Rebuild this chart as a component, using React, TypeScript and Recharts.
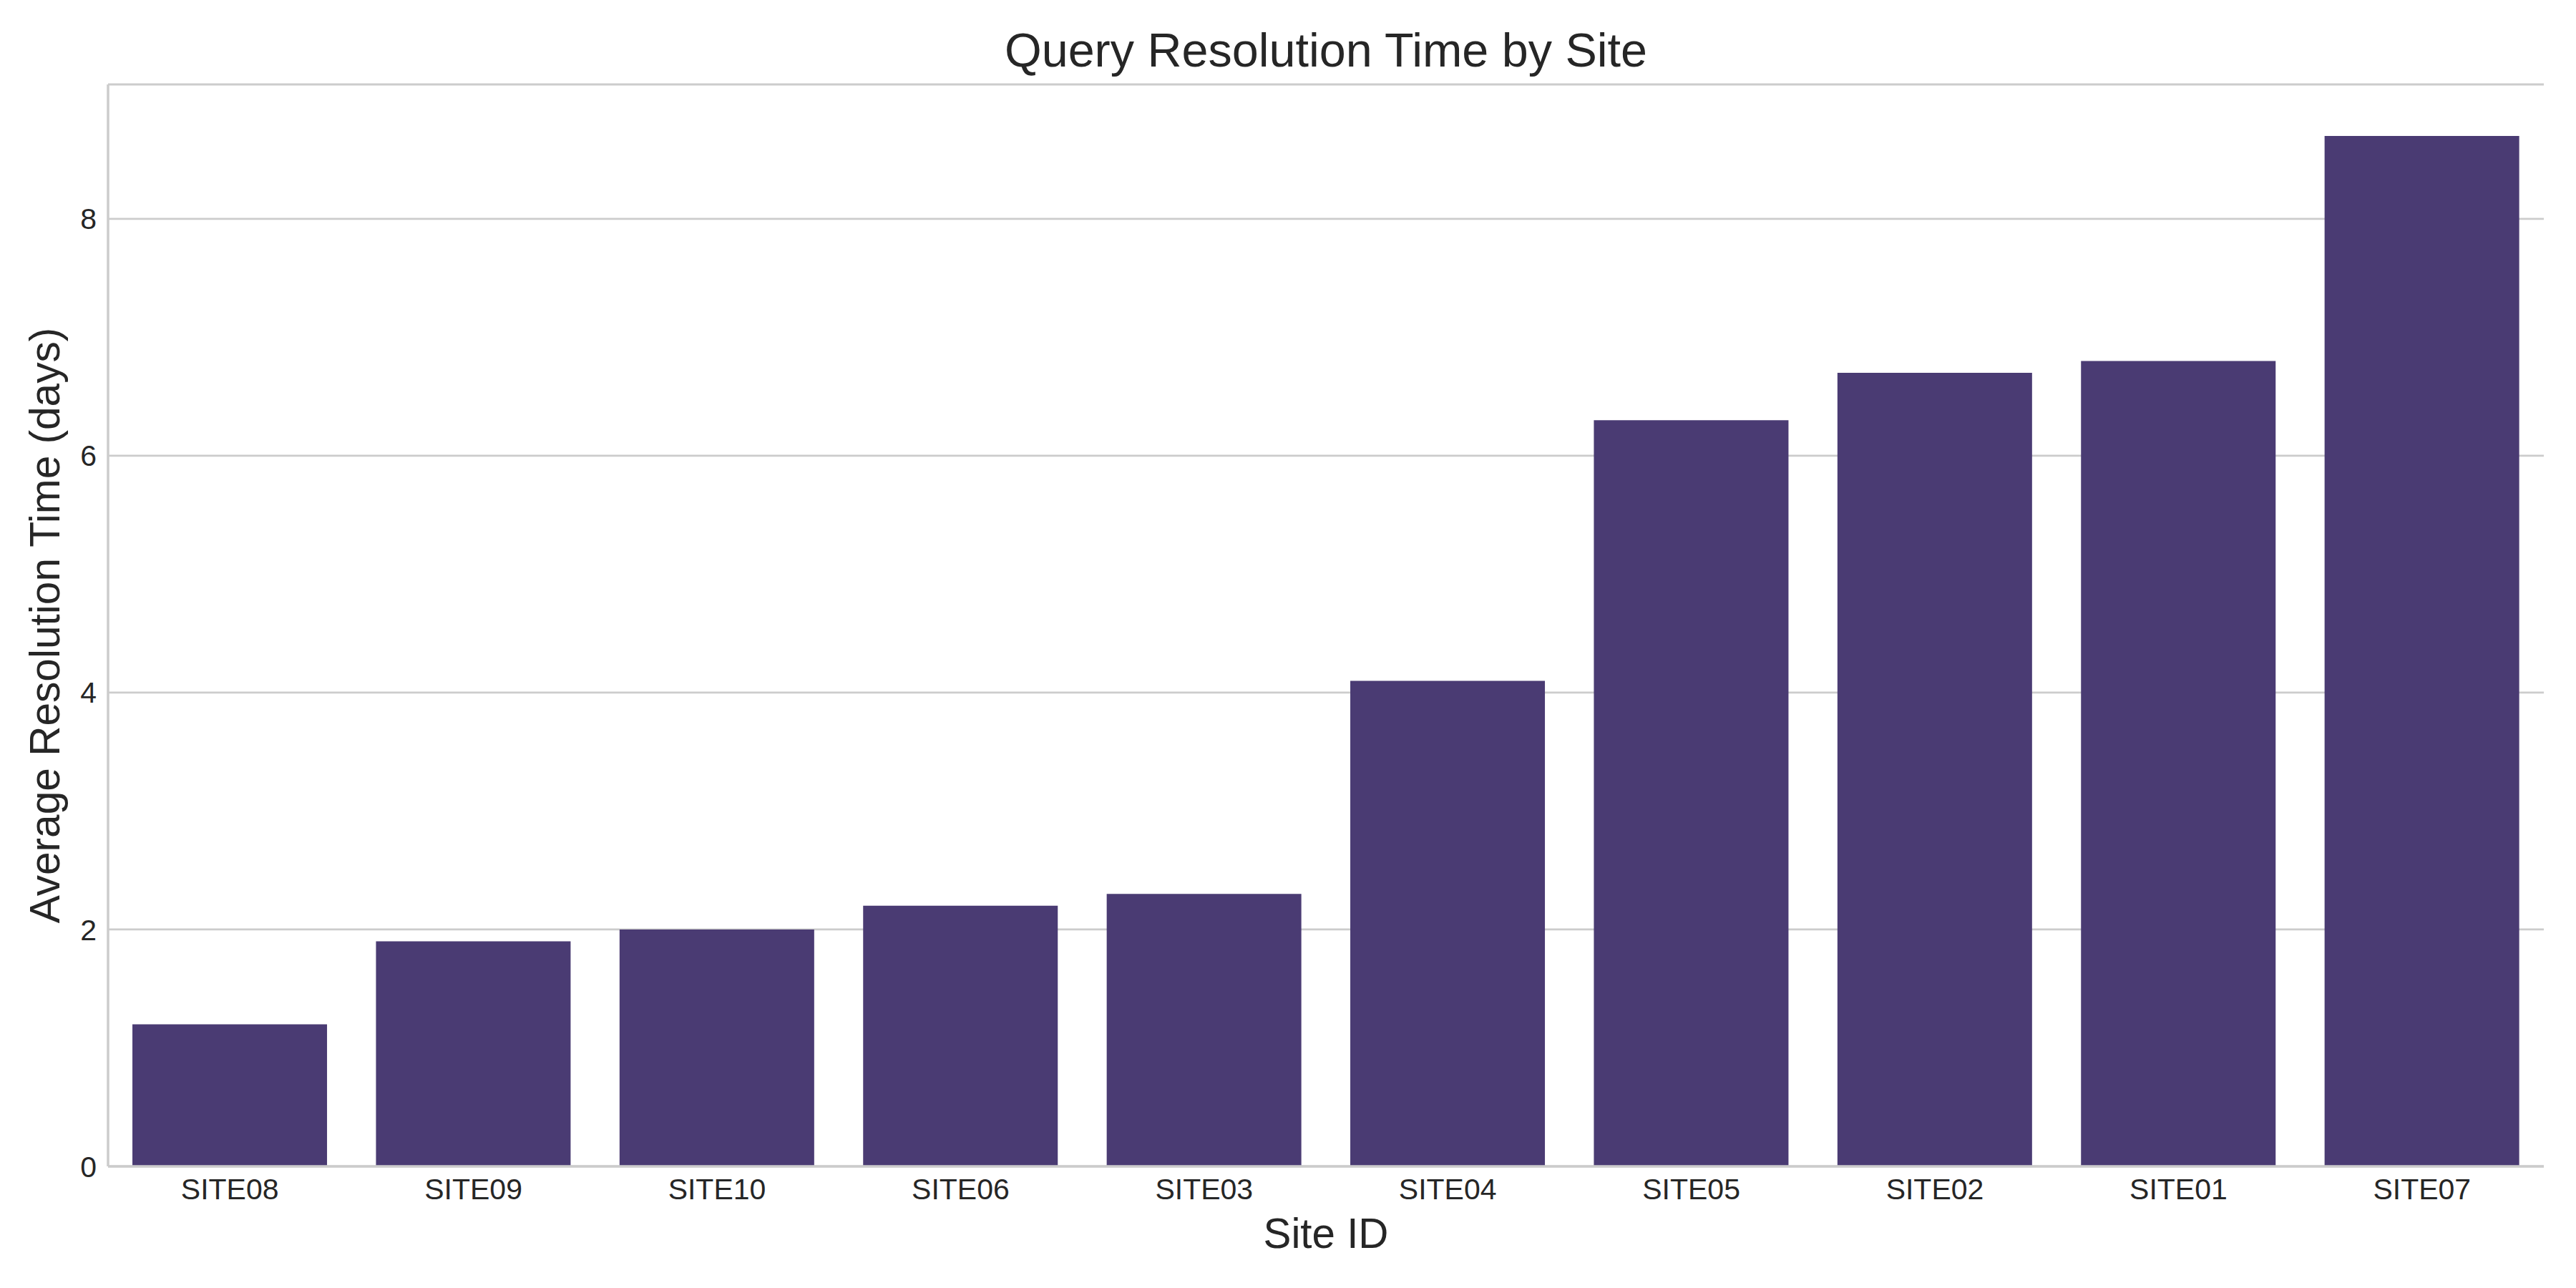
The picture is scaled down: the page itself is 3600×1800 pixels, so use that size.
import React from 'react';
import { BarChart, Bar, XAxis, YAxis, CartesianGrid } from 'recharts';

const sites = ['SITE08', 'SITE09', 'SITE10', 'SITE06', 'SITE03', 'SITE04', 'SITE05', 'SITE02', 'SITE01', 'SITE07'];
const avgDays = [1.2, 1.9, 2.0, 2.2, 2.3, 4.1, 6.3, 6.7, 6.8, 8.7];
const yTicks = [0, 2, 4, 6, 8];
const yMax = 9.135;
const title = 'Query Resolution Time by Site';

const data = sites.map((s, i) => ({ site: s, value: avgDays[i] }));

const FONT = '"Liberation Sans", Arial, sans-serif';
const TEXT = '#262626';
const GRID = '#cccccc';
const BAR = '#4a3b73';

const XLabel = (props: any) => {
  const vb = props.viewBox || {};
  return (
    <text x={vb.x + vb.width / 2} y={vb.y + 114} textAnchor="middle" fontFamily={FONT} fontSize={58.3} fill={TEXT}>
      Site ID
    </text>
  );
};

const YLabel = (props: any) => {
  const vb = props.viewBox || {};
  const cx = 83;
  const cy = vb.y + vb.height / 2;
  return (
    <text x={cx} y={cy} transform={`rotate(-90 ${cx} ${cy})`} textAnchor="middle" fontFamily={FONT} fontSize={58.6} fill={TEXT}>
      Average Resolution Time (days)
    </text>
  );
};

export default function App() {
  return (
    <div style={{ position: 'absolute', left: 0, top: 0, width: 3600, height: 1800, background: '#fff' }}>
      <svg width={3600} height={118} style={{ position: 'absolute', left: 0, top: 0 }}>
        <text x={1853} y={93} textAnchor="middle" fontFamily={FONT} fontSize={66.5} fill={TEXT}>
          {title}
        </text>
      </svg>
      <div style={{ position: 'absolute', left: 0, top: 0 }}>
        <BarChart
          width={3600}
          height={1800}
          data={data}
          margin={{ top: 118, right: 45, bottom: 110, left: 51 }}
          barCategoryGap="10%"
        >
          <CartesianGrid vertical={false} stroke={GRID} strokeWidth={2.8} />
          <XAxis
            dataKey="site"
            type="category"
            height={60}
            tickLine={false}
            tickSize={0}
            tickMargin={17}
            axisLine={{ stroke: GRID, strokeWidth: 3.5 }}
            tick={{ fontFamily: FONT, fontSize: 41, fill: TEXT }}
            interval={0}
            label={<XLabel />}
          />
          <XAxis
            xAxisId="top"
            dataKey="site"
            orientation="top"
            height={0}
            tick={false}
            tickLine={false}
            axisLine={{ stroke: GRID, strokeWidth: 3.5 }}
          />
          <YAxis
            type="number"
            domain={[0, yMax]}
            ticks={yTicks}
            width={100}
            tickLine={false}
            tickSize={0}
            tickMargin={16}
            axisLine={{ stroke: GRID, strokeWidth: 3.5 }}
            tick={{ fontFamily: FONT, fontSize: 41, fill: TEXT }}
            allowDataOverflow
            label={<YLabel />}
          />
          <YAxis
            yAxisId="right"
            orientation="right"
            type="number"
            domain={[0, yMax]}
            width={0}
            tick={false}
            tickLine={false}
            axisLine={{ stroke: GRID, strokeWidth: 3.5 }}
          />
          <Bar dataKey="value" fill={BAR} isAnimationActive={false} />
        </BarChart>
      </div>
    </div>
  );
}
